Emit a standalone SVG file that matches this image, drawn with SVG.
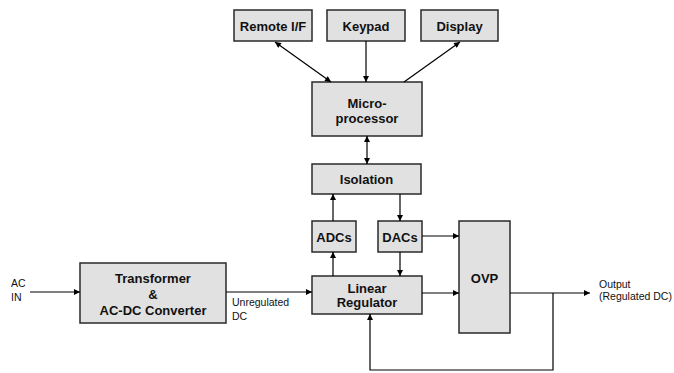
<svg xmlns="http://www.w3.org/2000/svg" width="674" height="373" viewBox="0 0 674 373">
  <defs>
    <marker id="arr" viewBox="0 0 10 10" refX="10" refY="5" markerWidth="8" markerHeight="6" markerUnits="userSpaceOnUse" orient="auto-start-reverse">
      <path d="M0,0 L10,5 L0,10 Z" fill="#000"/>
    </marker>
    <style>
      .box { fill: #e1e1e1; stroke: #2a2a2a; stroke-width: 1.5; }
      .lbl { font-family: "Liberation Sans", Arial, sans-serif; font-weight: bold; font-size: 13px; fill: #111; text-anchor: middle; }
      .note { font-family: "Liberation Sans", Arial, sans-serif; font-size: 10.5px; fill: #111; }
      .wire { fill: none; stroke: #000; stroke-width: 1.2; }
      .one { marker-end: url(#arr); }
      .two { marker-start: url(#arr); marker-end: url(#arr); }
    </style>
  </defs>

  <rect width="674" height="373" fill="#fff"/>

  <g id="remote-if">
    <rect class="box" x="234" y="10" width="78" height="31"/>
    <text class="lbl" x="273" y="30.5">Remote I/F</text>
  </g>
  <g id="keypad">
    <rect class="box" x="327" y="10" width="78" height="31"/>
    <text class="lbl" x="366" y="30.5">Keypad</text>
  </g>
  <g id="display">
    <rect class="box" x="421" y="10" width="77" height="31"/>
    <text class="lbl" x="459.5" y="30.5">Display</text>
  </g>
  <g id="microprocessor">
    <rect class="box" x="312" y="82" width="110" height="54"/>
    <text class="lbl" x="367" y="108">Micro-</text>
    <text class="lbl" x="367" y="123">processor</text>
  </g>
  <g id="isolation">
    <rect class="box" x="312" y="164" width="109" height="30"/>
    <text class="lbl" x="366.5" y="183.5">Isolation</text>
  </g>
  <g id="adcs">
    <rect class="box" x="312" y="221" width="44" height="31"/>
    <text class="lbl" x="334" y="241.5">ADCs</text>
  </g>
  <g id="dacs">
    <rect class="box" x="378" y="221" width="44" height="31"/>
    <text class="lbl" x="400" y="241.5">DACs</text>
  </g>
  <g id="linear-regulator">
    <rect class="box" x="312" y="276" width="110" height="38"/>
    <text class="lbl" x="367" y="293">Linear</text>
    <text class="lbl" x="367" y="307">Regulator</text>
  </g>
  <g id="ovp">
    <rect class="box" x="459" y="221" width="51" height="112"/>
    <text class="lbl" x="484.5" y="283">OVP</text>
  </g>
  <g id="transformer">
    <rect class="box" x="80" y="263" width="146" height="60"/>
    <text class="lbl" x="153" y="283">Transformer</text>
    <text class="lbl" x="153" y="299">&amp;</text>
    <text class="lbl" x="153" y="315">AC-DC Converter</text>
  </g>

  <g id="connectors">
    <line class="wire one" x1="30" y1="292" x2="80" y2="292"/>
    <line class="wire one" x1="226" y1="292" x2="312" y2="292"/>
    <line class="wire one" x1="422" y1="293" x2="459" y2="293"/>
    <line class="wire one" x1="422" y1="236" x2="459" y2="236"/>
    <line class="wire one" x1="510" y1="293" x2="590" y2="293"/>
    <polyline class="wire one" points="553,293 553,370 370,370 370,314"/>
    <line class="wire one" x1="333" y1="276" x2="333" y2="252"/>
    <line class="wire one" x1="333" y1="221" x2="333" y2="194"/>
    <line class="wire one" x1="400" y1="194" x2="400" y2="221"/>
    <line class="wire one" x1="400" y1="252" x2="400" y2="276"/>
    <line class="wire two" x1="367" y1="136" x2="367" y2="164"/>
    <line class="wire one" x1="366" y1="41" x2="366" y2="82"/>
    <line class="wire two" x1="275" y1="42" x2="331" y2="82"/>
    <line class="wire one" x1="404" y1="82" x2="460" y2="42"/>
  </g>

  <g id="labels">
    <text class="note" x="11" y="287">AC</text>
    <text class="note" x="11" y="300.5">IN</text>
    <text class="note" x="232" y="306">Unregulated</text>
    <text class="note" x="232" y="320">DC</text>
    <text class="note" x="599" y="288">Output</text>
    <text class="note" x="599" y="300">(Regulated DC)</text>
  </g>
</svg>
